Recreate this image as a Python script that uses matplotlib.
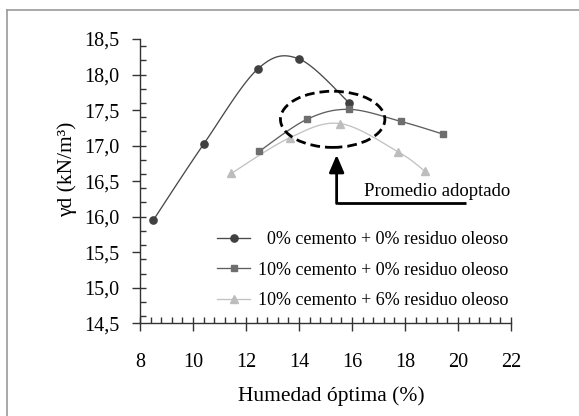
import numpy as np
import matplotlib
matplotlib.use("Agg")
import matplotlib.pyplot as plt
from matplotlib.patches import Ellipse
from matplotlib.lines import Line2D
from matplotlib.ticker import MultipleLocator, FixedLocator

plt.rcParams['font.family'] = ['Liberation Serif', 'DejaVu Serif']

# ---- data ----
s1_x = [8.5, 10.4, 12.45, 14.0, 15.9]
s1_y = [15.95, 17.02, 18.08, 18.22, 17.60]
s2_x = [12.5, 14.3, 15.9, 17.85, 19.45]
s2_y = [16.92, 17.37, 17.51, 17.34, 17.16]
s3_x = [11.45, 13.65, 15.55, 17.75, 18.75]
s3_y = [16.61, 17.11, 17.31, 16.91, 16.64]
labels = ["  0% cemento + 0% residuo oleoso",
          "10% cemento + 0% residuo oleoso",
          "10% cemento + 6% residuo oleoso"]
xticks = [8, 10, 12, 14, 16, 18, 20, 22]
yticks = [14.5, 15.0, 15.5, 16.0, 16.5, 17.0, 17.5, 18.0, 18.5]
yticklabels = ["14,5", "15,0", "15,5", "16,0", "16,5", "17,0", "17,5", "18,0", "18,5"]
annot_text = "Promedio adoptado"

W, H = 579, 416
fig = plt.figure(figsize=(W / 100, H / 100), dpi=100)
ax = fig.add_axes([140 / W, 1 - 323.3 / H, 371 / W, 284.3 / H])
ax.set_xlim(8, 22)
ax.set_ylim(14.5, 18.5)

def smooth(xs, ys, n=30):
    pts = ax.transData.transform(np.column_stack([xs, ys]))
    out = []
    m = len(pts)
    for i in range(m - 1):
        p0 = pts[i - 1] if i > 0 else pts[i]
        p1 = pts[i]
        p2 = pts[i + 1]
        p3 = pts[i + 2] if i + 2 < m else pts[i + 1]
        c1 = p1 + (p2 - p0) / 6
        c2 = p2 - (p3 - p1) / 6
        t = np.linspace(0, 1, n)[:, None]
        seg = (1 - t) ** 3 * p1 + 3 * (1 - t) ** 2 * t * c1 + 3 * (1 - t) * t ** 2 * c2 + t ** 3 * p2
        out.append(seg if i == 0 else seg[1:])
    out = np.vstack(out)
    d = ax.transData.inverted().transform(out)
    return d[:, 0], d[:, 1]

series = [
    (s1_x, s1_y, 'o', '#404040', '#4a4a4a', 5.2),
    (s2_x, s2_y, 's', '#6e6e6e', '#5e5e5e', 5.0),
    (s3_x, s3_y, '^', '#bdbdbd', '#c2c2c2', 6.0),
]
handles = []
for (xs, ys, mk, mc, lc, ms), lab in zip(series, labels):
    sx, sy = smooth(xs, ys)
    ax.plot(sx, sy, color=lc, lw=0.95, zorder=2)
    ax.plot(xs, ys, ls='none', marker=mk, ms=ms, color=mc, mec=mc, zorder=3)
    handles.append(Line2D([], [], color=lc, lw=0.95, marker=mk, ms=ms, mfc=mc, mec=mc))

# annotation: ellipse and arrow
ell = Ellipse((15.27, 17.37), 3.94, 0.79, fill=False, ec='black', lw=2,
              ls=(0, (3.5, 1.8)), zorder=4)
ax.add_patch(ell)
ax.plot([15.42, 20.31], [16.19, 16.19], color='black', lw=2, solid_capstyle='butt', zorder=4)
ax.annotate('', xy=(15.42, 16.87), xytext=(15.42, 16.185),
            arrowprops=dict(arrowstyle='-|>,head_length=0.7,head_width=0.3',
                            color='black', lw=2, mutation_scale=15,
                            shrinkA=0, shrinkB=0), zorder=4)
ax.text(16.45, 16.35, annot_text, fontsize=13.5, ha='left', va='center')

# axes styling
for s in ['top', 'right']:
    ax.spines[s].set_visible(False)
for s in ['left', 'bottom']:
    ax.spines[s].set_color('#333333')
    ax.spines[s].set_linewidth(1.0)

ax.xaxis.set_major_locator(FixedLocator(xticks))
ax.xaxis.set_minor_locator(MultipleLocator(0.4))
ax.yaxis.set_major_locator(FixedLocator(yticks))
ax.set_yticklabels(yticklabels)
ax.yaxis.set_minor_locator(MultipleLocator(0.2))
ax.xaxis.remove_overlapping_locs = False
ax.yaxis.remove_overlapping_locs = False
ax.tick_params(axis='both', which='major', direction='out', length=5.5, width=1.0,
               color='#333333', labelsize=14.5, labelcolor='black')
ax.tick_params(axis='both', which='minor', direction='in', length=4, width=1.0,
               color='#333333')
ax.tick_params(axis='x', which='major', pad=16)
ax.tick_params(axis='y', which='major', pad=9.5)

ax.set_xlabel("Humedad óptima (%)", fontsize=15.5)
ax.set_ylabel("γd (kN/m³)", fontsize=15.5)
ax.xaxis.set_label_coords(0.515, -0.222)
ax.yaxis.set_label_coords(-0.17, 0.54)

ax.legend(handles, labels, loc='upper left', bbox_to_anchor=(217 / W, 1 - 231 / H),
          bbox_transform=fig.transFigure, frameon=False, fontsize=13,
          handlelength=1.85, handletextpad=0.4, labelspacing=0.75,
          borderpad=0, borderaxespad=0)

# figure frame (left and top edges visible)
fig.add_artist(Line2D([7.5 / W, 7.5 / W], [0, 1 - 9.7 / H], transform=fig.transFigure,
                      color='#9a9a9a', lw=1.2))
fig.add_artist(Line2D([7.5 / W, 1], [1 - 9.7 / H, 1 - 9.7 / H], transform=fig.transFigure,
                      color='#9a9a9a', lw=1.2))

fig.savefig("out.png", dpi=100)
